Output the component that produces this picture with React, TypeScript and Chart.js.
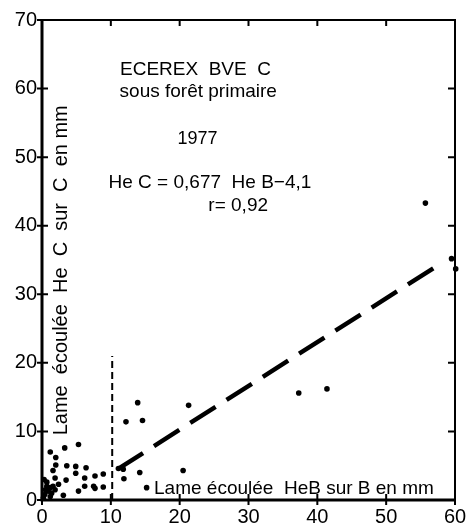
import React, { useEffect, useRef } from "react";
import { Chart, registerables } from "chart.js";

Chart.register(...registerables);

const xTicks = [0, 10, 20, 30, 40, 50, 60];
const yTicks = [0, 10, 20, 30, 40, 50, 60, 70];

const pointX = [1.2, 3.3, 5.3, 2.0, 2.0, 1.6, 3.6, 4.9, 6.4, 4.9, 7.7, 8.9, 1.9, 3.5, 6.2, 0.3, 2.4, 6.2, 7.5, 7.7, 8.9, 5.3, 3.1,
  0.7, 1.2, 1.6, 0.9, 1.4, 0.4, 1.2, 1.9, 0.7, 0.2, 0.5,
  11.1, 11.8, 11.9, 14.2, 15.2, 12.2, 13.9, 14.6, 21.3, 20.5, 37.3, 41.4, 55.7, 59.5, 60.1];
const pointY = [7.0, 7.6, 8.1, 6.2, 5.1, 4.3, 5.0, 4.9, 4.7, 3.9, 3.5, 3.8, 3.2, 2.9, 3.2, 3.0, 2.3, 2.0, 2.0, 1.7, 1.9, 1.3, 0.7,
  2.0, 1.8, 2.0, 1.3, 1.0, 0.8, 0.5, 1.5, 2.6, 0.3, 1.5,
  4.6, 4.5, 3.1, 4.0, 1.8, 11.4, 14.2, 11.6, 13.8, 4.3, 15.6, 16.2, 43.3, 35.2, 33.7];

const regX = [11, 57.5];
const regY = [4.5, 34.2];
const limitX = [10.2, 10.2];
const limitY = [0, 21];

const titleLines = ["ECEREX  BVE  C", "sous forêt primaire", "1977", "He C = 0,677  He B−4,1", "r= 0,92"];
const yTitle = "Lame  écoulée  He  C  sur  C  en mm";
const xTitle = "Lame écoulée  HeB sur B en mm";

const FONT = "'Liberation Sans', Arial, sans-serif";

const framePlugin = {
  id: "frame",
  afterDatasetsDraw(chart: any) {
    const { ctx, chartArea: a, scales } = chart;
    const xs = scales.x, ys = scales.y;
    ctx.save();
    ctx.strokeStyle = "#000";
    ctx.lineCap = "butt";
    ctx.lineWidth = 3;
    ctx.beginPath();
    ctx.moveTo(a.left, a.top);
    ctx.lineTo(a.left, a.bottom);
    ctx.lineTo(a.right, a.bottom);
    ctx.stroke();
    ctx.lineWidth = 2;
    ctx.beginPath();
    ctx.moveTo(a.left, a.top);
    ctx.lineTo(a.right, a.top);
    ctx.lineTo(a.right, a.bottom);
    ctx.stroke();
    ctx.lineWidth = 2;
    ctx.beginPath();
    xTicks.forEach((v) => {
      const px = xs.getPixelForValue(v);
      ctx.moveTo(px, a.bottom - 6);
      ctx.lineTo(px, a.bottom + 5);
      if (v > 0 && v < 60) {
        ctx.moveTo(px, a.top);
        ctx.lineTo(px, a.top + 6);
      }
    });
    yTicks.forEach((v) => {
      const py = ys.getPixelForValue(v);
      ctx.moveTo(a.left - 5, py);
      ctx.lineTo(a.left + 6, py);
      if (v > 0 && v < 70) {
        ctx.moveTo(a.right, py);
        ctx.lineTo(a.right - 7, py);
      }
    });
    ctx.stroke();

    ctx.fillStyle = "#000";
    ctx.textAlign = "center";
    ctx.textBaseline = "middle";
    ctx.font = `19px ${FONT}`;
    ctx.fillText(titleLines[0], xs.getPixelForValue(22.3), ys.getPixelForValue(62.7));
    ctx.fillText(titleLines[1], xs.getPixelForValue(22.7), ys.getPixelForValue(59.5));
    ctx.font = `18px ${FONT}`;
    ctx.fillText(titleLines[2], xs.getPixelForValue(22.6), ys.getPixelForValue(52.7));
    ctx.font = `19px ${FONT}`;
    ctx.fillText(titleLines[3], xs.getPixelForValue(24.4), ys.getPixelForValue(46.2));
    ctx.fillText(titleLines[4], xs.getPixelForValue(28.5), ys.getPixelForValue(42.9));

    ctx.fillText(xTitle, xs.getPixelForValue(36.6), ys.getPixelForValue(1.6));

    ctx.save();
    ctx.font = `20px ${FONT}`;
    ctx.translate(xs.getPixelForValue(2.9), ys.getPixelForValue(33.5));
    ctx.rotate(-Math.PI / 2);
    ctx.fillText(yTitle, 0, 0);
    ctx.restore();

    ctx.restore();
  },
};

export default function App() {
  const ref = useRef<HTMLCanvasElement>(null);
  useEffect(() => {
    if (!ref.current) return;
    const points = pointX.map((x, i) => ({ x, y: pointY[i] }));
    const reg = regX.map((x, i) => ({ x, y: regY[i] }));
    const lim = limitX.map((x, i) => ({ x, y: limitY[i] }));
    const chart = new Chart(ref.current, {
      type: "scatter",
      data: {
        datasets: [
          {
            data: reg,
            showLine: true,
            borderColor: "#000",
            borderWidth: 4.5,
            borderDash: [30, 13],
            pointRadius: 0,
            order: 2,
          } as any,
          {
            data: lim,
            showLine: true,
            borderColor: "#000",
            borderWidth: 2,
            borderDash: [7, 4],
            pointRadius: 0,
            order: 2,
          } as any,
          {
            data: points,
            backgroundColor: "#000",
            borderColor: "#000",
            pointRadius: 2.8,
            borderWidth: 0,
            clip: false,
            order: 1,
          } as any,
        ],
      },
      options: {
        responsive: false,
        animation: false,
        layout: { padding: { top: 20, right: 12, left: 0, bottom: 0 } },
        plugins: { legend: { display: false }, tooltip: { enabled: false } },
        scales: {
          x: {
            type: "linear",
            min: 0,
            max: 60,
            afterBuildTicks: (s: any) => {
              s.ticks = xTicks.map((v) => ({ value: v }));
            },
            afterFit: (s: any) => {
              s.height = 29;
            },
            ticks: {
              font: { family: FONT, size: 20 },
              color: "#000",
              padding: 0,
              maxRotation: 0,
            },
            grid: { drawOnChartArea: false, tickLength: 5, tickColor: "rgba(0,0,0,0)" },
            border: { display: false },
          },
          y: {
            type: "linear",
            min: 0,
            max: 70,
            afterBuildTicks: (s: any) => {
              s.ticks = yTicks.map((v) => ({ value: v }));
            },
            afterFit: (s: any) => {
              s.width = 42;
            },
            ticks: {
              font: { family: FONT, size: 20 },
              color: "#000",
              padding: 0,
            },
            grid: { drawOnChartArea: false, tickLength: 5, tickColor: "rgba(0,0,0,0)" },
            border: { display: false },
          },
        },
      },
      plugins: [framePlugin],
    });
    return () => chart.destroy();
  }, []);
  return (
    <div style={{ position: "absolute", left: 0, top: 0, width: 467, height: 529, background: "#fff" }}>
      <canvas ref={ref} width={467} height={529} style={{ display: "block" }} />
    </div>
  );
}
